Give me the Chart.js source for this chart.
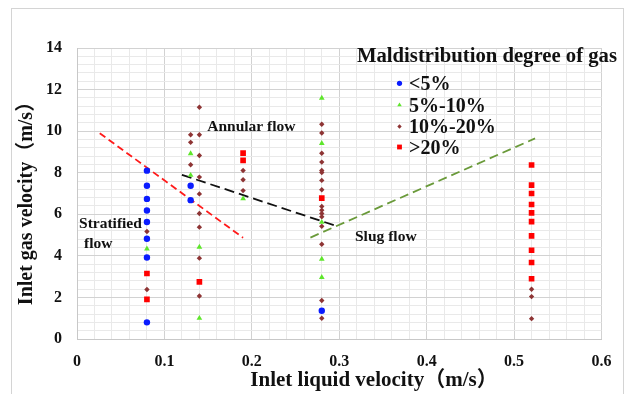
<!DOCTYPE html>
<html><head><meta charset="utf-8">
<script src="https://cdn.jsdelivr.net/npm/chart.js@4.4.0/dist/chart.umd.min.js"></script>
<style>html,body{margin:0;padding:0;background:#fff;}#wrap{width:629px;height:394px;}</style>
</head><body><div id="wrap"><canvas id="c" width="629" height="394"></canvas></div>
<script>
// ---- data (x = inlet liquid velocity m/s, y = inlet gas velocity m/s) ----
const seriesLabels = ['<5%', '5%-10%', '10%-20%', '>20%'];
const legendTitle = 'Maldistribution degree of gas';
const xAxisTitle = 'Inlet liquid velocity（m/s）';
const yAxisTitle = 'Inlet gas velocity（m/s）';
const xTickValues = [0, 0.1, 0.2, 0.3, 0.4, 0.5, 0.6];
const yTickValues = [0, 2, 4, 6, 8, 10, 12, 14];

const below5 = [[0.08,8.10],[0.08,7.37],[0.08,6.74],[0.08,6.18],[0.08,5.63],[0.08,4.82],[0.08,3.92],[0.08,0.80],
  [0.13,7.37],[0.13,6.68],[0.28,1.36]];
const from5to10 = [[0.08,4.34],[0.13,8.92],[0.13,7.88],[0.14,4.42],[0.14,1.00],[0.19,6.75],
  [0.28,11.59],[0.28,9.41],[0.28,5.62],[0.28,3.85],[0.28,2.97]];
const from10to20 = [[0.08,5.17],[0.08,2.38],
  [0.13,9.83],[0.13,9.46],[0.13,8.38],
  [0.14,11.15],[0.14,9.83],[0.14,8.83],[0.14,7.79],[0.14,6.98],[0.14,6.04],[0.14,5.38],[0.14,3.89],[0.14,2.07],
  [0.19,8.11],[0.19,7.66],[0.19,7.14],
  [0.28,10.33],[0.28,9.91],[0.28,8.94],[0.28,8.51],[0.28,8.11],[0.28,8.01],[0.28,7.63],[0.28,7.18],[0.28,6.38],
  [0.28,6.20],[0.28,6.04],[0.28,5.88],[0.28,5.42],[0.28,4.56],[0.28,1.85],[0.28,1.00],
  [0.52,2.39],[0.52,2.04],[0.52,0.98]];
const above20 = [[0.08,3.15],[0.08,1.91],[0.14,2.75],[0.19,8.94],[0.19,8.59],[0.28,6.78],
  [0.52,8.37],[0.52,7.40],[0.52,7.00],[0.52,6.47],[0.52,6.07],[0.52,5.65],[0.52,4.96],[0.52,4.27],[0.52,3.68],[0.52,2.90]];

const stratifiedBoundary = [[0.026,9.90],[0.190,4.87]];
const annularBoundary = [[0.120,7.90],[0.295,5.46]];
const slugBoundary = [[0.267,4.88],[0.524,9.65]];

const regionNames = ['Annular flow', 'Stratified', 'flow', 'Slug flow'];
const regionAnchors = [[0.149,10.0],[0.0023,5.35],[0.008,4.38],[0.318,4.72]];

// ---- build ----
const toPts = arr => arr.map(p => ({x: p[0], y: p[1]}));
const markerStyles = [
  {pointStyle:'circle', radius:3.2, color:'#0a1cff', legendRadius:2.6},
  {pointStyle:'triangle', radius:3.3, color:'#5ee62b', legendRadius:2.6},
  {pointStyle:'rectRot', radius:2.7, color:'#8e3434', legendRadius:2.2},
  {pointStyle:'rect', radius:4, color:'#ff0000', legendRadius:3.4}
];
const markerSeries = [below5, from5to10, from10to20, above20];
const SERIF = "'Liberation Serif','Times New Roman','Noto Sans CJK SC',serif";

const datasets = markerSeries.map((s, i) => ({
  label: seriesLabels[i],
  data: toPts(s),
  pointStyle: markerStyles[i].pointStyle,
  pointRadius: markerStyles[i].radius,
  pointHoverRadius: markerStyles[i].radius,
  backgroundColor: markerStyles[i].color,
  borderColor: markerStyles[i].color,
  borderWidth: 0,
  showLine: false,
  order: 1
}));
const lineDefs = [
  {d: stratifiedBoundary, c:'#ff1a1a', dash:[7,4]},
  {d: annularBoundary, c:'#111111', dash:[10,5]},
  {d: slugBoundary, c:'#6a9a3a', dash:[9,5]}
];
lineDefs.forEach(l => datasets.push({
  label: '',
  data: toPts(l.d),
  showLine: true,
  borderColor: l.c,
  borderWidth: 1.8,
  borderDash: l.dash,
  pointRadius: 0,
  fill: false,
  order: 2
}));

const near = (v, step) => Math.abs(v / step - Math.round(v / step)) < 1e-6;

const decor = {
  id: 'decor',
  beforeDraw(chart) {
    const ctx = chart.ctx;
    ctx.save();
    ctx.fillStyle = '#fff';
    ctx.fillRect(0, 0, chart.width, chart.height);
    ctx.strokeStyle = '#d4d4d4';
    ctx.lineWidth = 1;
    ctx.strokeRect(11.5, 8.5, 612, 400);
    ctx.restore();
  },
  afterDraw(chart) {
    const ctx = chart.ctx;
    const xs = chart.scales.x, ys = chart.scales.y;
    ctx.save();
    ctx.fillStyle = '#111';
    // region labels
    ctx.font = 'bold 15.5px ' + SERIF;
    ctx.textAlign = 'left';
    ctx.textBaseline = 'alphabetic';
    regionNames.forEach((t, i) => {
      ctx.fillText(t, xs.getPixelForValue(regionAnchors[i][0]), ys.getPixelForValue(regionAnchors[i][1]));
    });
    // legend
    ctx.font = 'bold 20.7px ' + SERIF;
    ctx.fillText(legendTitle, 357, 61.5);
    ctx.font = 'bold 20px ' + SERIF;
    const rowY = [83.3, 105, 126.5, 147];
    seriesLabels.forEach((t, i) => {
      const m = markerStyles[i];
      ctx.fillStyle = m.color;
      ctx.strokeStyle = m.color;
      ctx.lineWidth = 0;
      Chart.helpers.drawPoint(ctx, {pointStyle: m.pointStyle, radius: m.legendRadius, rotation: 0, borderWidth: 0}, 399.5, rowY[i]);
      ctx.fillStyle = '#111';
      ctx.fillText(t, 409, rowY[i] + 6.5);
    });
    // axis titles
    ctx.font = 'bold 21px ' + SERIF;
    ctx.textAlign = 'center';
    ctx.textBaseline = 'middle';
    ctx.fillText(xAxisTitle, 374, 381);
    ctx.font = 'bold 20px ' + SERIF;
    ctx.translate(27, 198.5);
    ctx.rotate(-Math.PI / 2);
    ctx.fillText(yAxisTitle, 0, 0);
    ctx.restore();
  }
};

new Chart(document.getElementById('c'), {
  type: 'scatter',
  data: { datasets },
  plugins: [decor],
  options: {
    responsive: false,
    animation: false,
    events: [],
    layout: { padding: { left: 0, right: 27.5, top: 48, bottom: 0 } },
    plugins: { legend: { display: false }, tooltip: { enabled: false }, title: { display: false } },
    scales: {
      x: {
        type: 'linear', min: 0, max: 0.6,
        afterFit: s => { s.height = 55; },
        ticks: {
          stepSize: 0.02, autoSkip: false, maxRotation: 0, padding: 13,
          color: '#111', font: { family: SERIF, weight: 'bold', size: 16 },
          callback: v => {
            const m = xTickValues.find(t => Math.abs(t - v) < 1e-6);
            return m === undefined ? '' : String(m);
          }
        },
        grid: {
          drawTicks: false,
          color: c => (c.tick && near(c.tick.value, 0.1)) ? '#d2d2d2' : '#e9e9e9'
        },
        border: { color: '#c8c8c8' }
      },
      y: {
        type: 'linear', min: 0, max: 14,
        afterFit: s => { s.width = 77; },
        ticks: {
          stepSize: 0.4, autoSkip: false, padding: 15,
          color: '#111', font: { family: SERIF, weight: 'bold', size: 16 },
          callback: v => {
            const m = yTickValues.find(t => Math.abs(t - v) < 1e-6);
            return m === undefined ? '' : String(m);
          }
        },
        grid: {
          drawTicks: false,
          color: c => (c.tick && near(c.tick.value, 2)) ? '#d2d2d2' : '#e9e9e9'
        },
        border: { color: '#c8c8c8' }
      }
    }
  }
});
</script></body></html>
